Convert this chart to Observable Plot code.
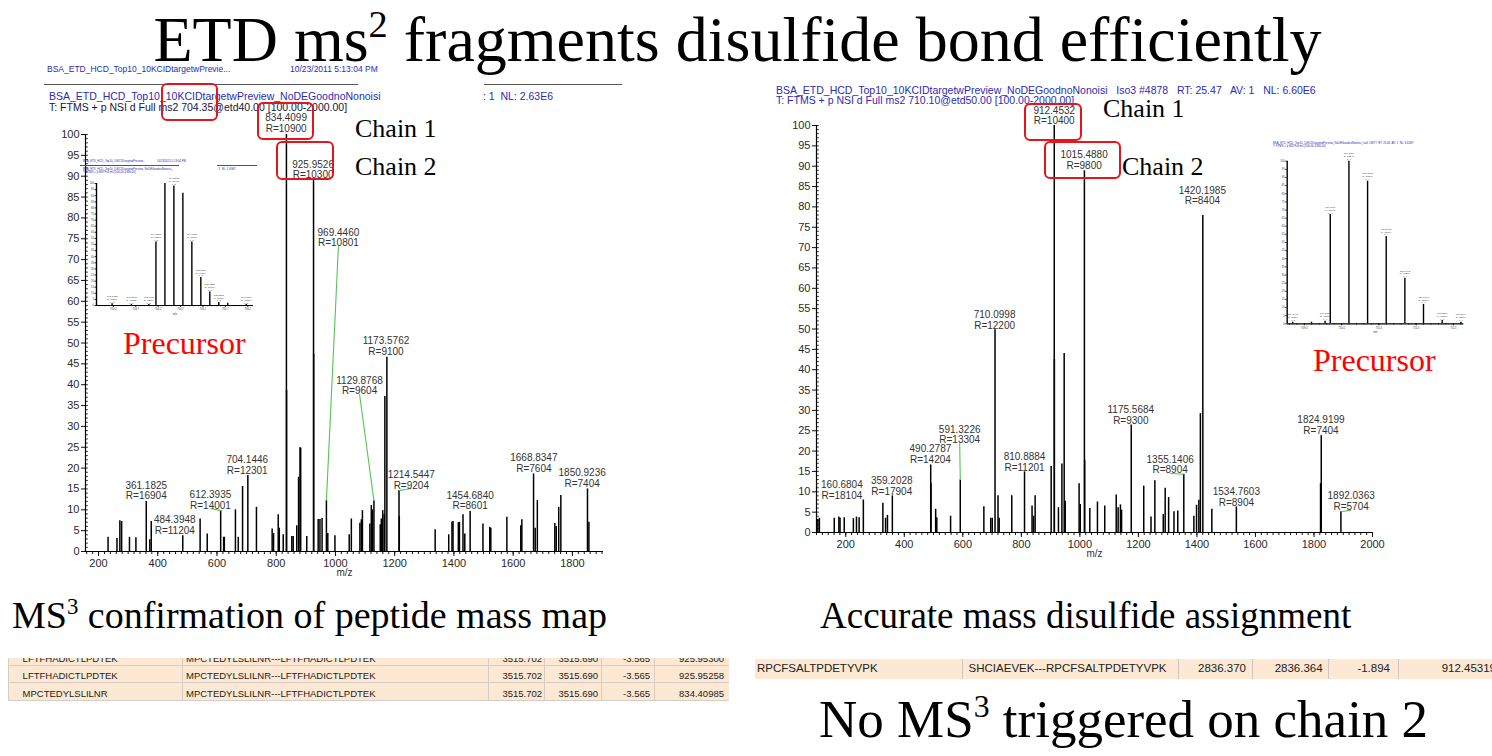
<!DOCTYPE html>
<html><head><meta charset="utf-8">
<script src="https://cdn.jsdelivr.net/npm/d3@7"></script>
<script src="https://cdn.jsdelivr.net/npm/@observablehq/plot@0.6"></script>
<style>
html,body{margin:0;padding:0;background:#fff;}
body{position:relative;width:1492px;height:756px;overflow:hidden;font-family:"Liberation Sans",Arial,sans-serif;}
.box{position:absolute;border:2px solid #e8141b;border-radius:6px;box-sizing:border-box;}
.cell{position:absolute;white-space:pre;}
.sup{font-size:0.6em;vertical-align:0.62em;line-height:0}
</style></head><body>
<script>
// ---------------- DATA ----------------
const titleText = "ETD ms<span class='sup'>2</span> fragments disulfide bond efficiently";

// Left spectrum: ms2 of 704.35 (etd40)
const leftMz = [232.2, 262.3, 272.0, 278.0, 304.5, 326.2, 361.1825, 373.1, 378.0, 484.3948, 543.0, 567.0, 612.3935, 622.4, 624.8, 662.2, 671.8, 686.3, 704.1446, 733.2, 786.2, 791.0, 806.7, 810.3, 823.6, 834.4099, 834.91, 852.5, 857.3, 869.3, 875.4, 880.2, 882.6, 903.1, 925.9526, 926.45, 941.6, 947.6, 954.8, 969.4460, 974.1, 998.2, 1046.4, 1053.6, 1082.5, 1087.3, 1091.0, 1116.2, 1121.0, 1124.7, 1129.8768, 1151.2, 1154.8, 1159.6, 1164.4, 1166.8, 1173.5762, 1214.5447, 1215.5, 1336.6, 1382.4, 1393.3, 1396.9, 1414.9, 1418.6, 1430.6, 1436.6, 1454.6840, 1498.0, 1520.9, 1524.5, 1578.7, 1625.7, 1629.3, 1668.8347, 1674.4, 1681.6, 1740.6, 1745.4, 1753.8, 1761.0, 1850.9236, 1855.7];
const leftInt = [3.4, 3.1, 7.4, 7.2, 3.4, 3.3, 12.0, 2.8, 7.2, 3.8, 7.8, 4.2, 9.8, 3.4, 3.4, 10.0, 3.4, 15.6, 18.2, 10.6, 5.4, 4.3, 8.8, 5.6, 4.0, 100, 38.6, 3.6, 3.6, 6.2, 17.8, 24.9, 24.8, 3.6, 89, 47.4, 7.7, 7.7, 7.9, 12.2, 4.3, 3.8, 4.0, 7.8, 6.8, 7.6, 9.8, 6.6, 11.0, 10.0, 12.2, 6.4, 7.8, 9.8, 8.8, 37.2, 46.6, 14.6, 8.4, 5.2, 4.0, 7.0, 7.2, 6.9, 7.0, 8.8, 4.2, 9.6, 6.6, 5.8, 5.6, 8.2, 6.2, 7.6, 18.6, 5.6, 12.2, 6.7, 6.0, 10.6, 13.4, 15.0, 7.0];
const leftLabelMz = [361.1825, 484.3948, 612.3935, 704.1446, 834.4099, 925.9526, 969.4460, 1129.8768, 1173.5762, 1214.5447, 1454.6840, 1668.8347, 1850.9236];
const leftLabelRes = [16904, 11204, 14001, 12301, 10900, 10300, 10801, 9604, 9100, 9204, 8601, 7604, 7404];
const leftLabelShift = [[0,0.5],[-27,0.5],[-34.5,0.5],[-2,0.5],[-1,0.6],[-1.5,0.5],[40.5,61],[-48.6,25.5],[-3,0.5],[41.5,0.5],[0,0.5],[1,0.5],[-18,0.5]];
const leftLeaders = [612.3935, 969.4460, 1129.8768, 1214.5447];
const leftXTicks = [200, 400, 600, 800, 1000, 1200, 1400, 1600, 1800];

// Right spectrum: ms2 of 710.10 (etd50)
const rightMz = [104.6, 109.8, 160.6804, 176.5, 180.4, 194.8, 226.0, 236.6, 245.7, 260.1, 326.8, 336.0, 342.5, 359.2028, 490.2787, 491.3, 507.2, 511.1, 558.2, 591.3226, 671.9, 695.4, 700.7, 710.0998, 720.3, 724.2, 767.3, 810.8884, 836.6, 841.8, 847.1, 901.9, 912.4532, 912.95, 926.8, 938.6, 946.4, 950.0, 997.4, 1001.3, 1015.4880, 1016.5, 1034.0, 1060.1, 1085.0, 1124.2, 1130.7, 1138.6, 1142.5, 1175.5684, 1218.3, 1243.1, 1256.2, 1285.0, 1291.5, 1303.3, 1321.6, 1334.6, 1355.1406, 1389.6, 1398.7, 1406.6, 1411.8, 1420.1985, 1451.0, 1534.7603, 1822.5, 1824.9199, 1892.0363];
const rightInt = [3.2, 3.5, 3.5, 3.8, 3.5, 3.6, 3.4, 3.8, 3.6, 8.0, 7.2, 3.5, 4.2, 9.0, 16.6, 12.0, 5.7, 3.6, 4.0, 12.9, 6.3, 3.5, 3.5, 49.8, 9.0, 3.5, 9.0, 14.9, 6.5, 4.0, 9.0, 16.2, 100, 42.5, 6.1, 16.8, 44.0, 7.7, 12.0, 6.9, 88.9, 17.8, 5.9, 7.5, 6.5, 9.2, 6.1, 6.8, 5.5, 26.4, 11.4, 3.8, 12.7, 4.4, 10.9, 8.6, 5.1, 5.3, 14.3, 4.0, 6.7, 7.9, 29.2, 77.9, 5.7, 6.3, 12.0, 23.8, 5.1];
const rightLabelMz = [160.6804, 359.2028, 490.2787, 591.3226, 710.0998, 810.8884, 912.4532, 1015.4880, 1175.5684, 1355.1406, 1420.1985, 1534.7603, 1824.9199, 1892.0363];
const rightLabelRes = [18104, 17904, 14204, 13304, 12200, 11201, 10400, 9800, 9300, 8904, 8404, 8904, 7404, 5704];
const rightLabelShift = [[26,4.7],[-2,0.3],[-1,0.5],[-2,9],[-1.5,0.3],[0,0.2],[0,0.3],[-1,0.4],[-1.5,0.3],[-46.6,0.2],[-1.6,2.7],[0,0.2],[-1,0.4],[35,0.4]];
const rightLeaders = [591.3226, 1355.1406, 1892.0363];
const rightXTicks = [200, 400, 600, 800, 1000, 1200, 1400, 1600, 1800, 2000];

// Insets: precursor isotope clusters
const leftInsetMz = [703.1722, 703.6018, 703.9936, 704.1505, 704.3509, 704.5512, 704.7518, 704.9521, 705.1524, 705.3528, 705.5531, 705.7529, 706.1650];
const leftInsetInt = [1.5, 0.8, 0.8, 52, 100, 98, 92, 52, 23, 11, 2.5, 1.9, 0.8];
const leftInsetRes = [16104, 16302, 16004, 16204, 16200, 16400, 16204, 16104, 16204, 16004, 15904, 16104, 15804];
const leftInsetZ = [5, 5, 5, 5, 5, 5, 5, 5, 5, 5, 5, 5, 5];
const leftInsetLabelled = [703.1722, 703.6018, 703.9936, 704.1505, 704.5512, 704.9521, 705.1524, 705.3528, 705.5531, 706.1650];
const leftInsetTicks = [703.2, 703.7, 704.2, 704.7, 705.2, 705.7, 706.2];

const rightInsetMz = [709.3443, 709.5961, 709.7783, 709.8479, 710.0984, 710.3488, 710.5989, 710.8492, 711.0992, 711.3500, 711.6014];
const rightInsetInt = [1.0, 1.0, 1.6, 67.2, 100, 87.7, 53.7, 28, 11.9, 2, 1];
const rightInsetRes = [17304, 17104, 17804, 18404, 18240, 18004, 18104, 18204, 18004, 18204, 18004];
const rightInsetZ = [3, 4, 4, 4, 4, 4, 4, 4, 4, 4, 4];
const rightInsetLabelled = [709.3443, 709.7783, 709.8479, 710.0984, 710.3488, 710.5989, 710.8492, 711.0992, 711.3500, 711.6014];
const rightInsetTicks = [709.5, 710.0, 710.5, 711.0, 711.5];

// Tables
const leftTableRows = [
  ["LFTFHADICTLPDTEK", "MPCTEDYLSLILNR---LFTFHADICTLPDTEK", "3515.702", "3515.690", "-3.565", "925.95300"],
  ["LFTFHADICTLPDTEK", "MPCTEDYLSLILNR---LFTFHADICTLPDTEK", "3515.702", "3515.690", "-3.565", "925.95258"],
  ["MPCTEDYLSLILNR", "MPCTEDYLSLILNR---LFTFHADICTLPDTEK", "3515.702", "3515.690", "-3.565", "834.40985"]
];
const rightTableRows = [
  ["RPCFSALTPDETYVPK", "SHCIAEVEK---RPCFSALTPDETYVPK", "2836.370", "2836.364", "-1.894", "912.45319"]
];

// ---------------- HELPERS ----------------
const SERIF = "'Liberation Serif','Times New Roman',serif";
const SANS = "'Liberation Sans',Arial,sans-serif";
const body = document.body;
function place(el, css) { Object.assign(el.style, {position: "absolute"}, css); body.appendChild(el); return el; }
function textAt(html, x, baseline, size, family, color, extra = {}) {
  const asc = family === SERIF ? 0.8375 : 0.8465;
  const d = document.createElement("div");
  d.innerHTML = html;
  return place(d, {left: x + "px", top: (baseline - asc * size) + "px", fontSize: size + "px",
    lineHeight: size + "px", fontFamily: family, color, whiteSpace: "pre", ...extra});
}
function box(x, y, w, h) {
  const d = document.createElement("div"); d.className = "box";
  return place(d, {left: x + "px", top: y + "px", width: w + "px", height: h + "px"});
}
function hline(x1, x2, y, color, t) {
  const d = document.createElement("div");
  return place(d, {left: x1 + "px", top: y + "px", width: (x2 - x1) + "px", height: t + "px", background: color});
}

function spectrum(o) {
  const peaks = o.mz.map((m, i) => ({mz: m, int: o.inten[i]}));
  const labels = o.labMz.map((m, i) => {
    const p = peaks.find(d => d.mz === m);
    return {mz: m, int: p.int, lx: m + o.labShift[i][0], ly: p.int + o.labShift[i][1],
      text: `${m.toFixed(4)}\nR=${o.labRes[i]}`, lead: o.leaders.includes(m)};
  });
  const [x0, x1] = o.xDomain;
  return Plot.plot({
    width: o.width, height: o.height,
    marginLeft: o.ml, marginRight: o.mr, marginTop: o.mt, marginBottom: o.mb,
    x: {domain: o.xDomain, label: null},
    y: {domain: [0, 100], label: null},
    style: {fontFamily: SANS, color: "#2a2a2a", background: "transparent", overflow: "visible"},
    marks: [
      Plot.ruleY(d3.range(0, 101, 1), {x1: x0, x2: x0 + o.minorLen, stroke: "#111", strokeWidth: 0.8}),
      Plot.axisY(d3.range(0, 101, 5), {tickSize: 4, tickPadding: 2, fontSize: 11, label: null, stroke: "#111"}),
      Plot.axisX(d3.range(o.minorStart, x1, 20), {tickSize: 3, tickFormat: () => "", label: null, stroke: "#111"}),
      Plot.axisX(o.xTicks, {tickSize: 5, tickPadding: 3, fontSize: 11, label: null, tickFormat: d => String(d), stroke: "#111"}),
      Plot.ruleY([0], {stroke: "#000", strokeWidth: 1.2}),
      Plot.ruleX([x0], {stroke: "#000", strokeWidth: 1.2}),
      Plot.text(["m/z"], {frameAnchor: "bottom", dy: o.mzDy, fontSize: 10, fill: "#333"}),
      Plot.ruleX(peaks, {x: "mz", y1: 0, y2: "int", stroke: "#000", strokeWidth: 1.5}),
      Plot.link(labels.filter(d => d.lead), {x1: "lx", y1: "ly", x2: "mz", y2: "int", stroke: "#56c456", strokeWidth: 1.1}),
      Plot.text(labels, {x: "lx", y: "ly", text: "text", lineAnchor: "bottom", fontSize: 10, fill: "#333", lineHeight: 1.07})
    ]
  });
}

function inset(o) {
  const peaks = o.mz.map((m, i) => ({mz: m, int: o.inten[i], res: o.res[i], z: o.z[i]}));
  const lab = peaks.filter(d => o.labelled.includes(d.mz));
  return Plot.plot({
    width: o.width, height: o.height,
    marginLeft: o.ml, marginRight: o.mr, marginTop: o.mt, marginBottom: o.mb,
    x: {domain: o.xDomain, label: null},
    y: {domain: [0, 100], label: null},
    style: {fontFamily: SANS, color: "#333", background: "transparent", overflow: "visible"},
    marks: [
      Plot.axisY(d3.range(0, 101, 5), {tickSize: 1.5, tickPadding: 1, fontSize: 2.6, label: null}),
      Plot.axisX(d3.range(Math.ceil(o.xDomain[0] * 10) / 10, o.xDomain[1], 0.1), {tickSize: 1.2, tickFormat: () => "", label: null}),
      Plot.axisX(o.ticks, {tickSize: 2, tickPadding: 1, fontSize: 2.6, label: null, tickFormat: d => d.toFixed(1)}),
      Plot.ruleY([0], {stroke: "#000", strokeWidth: 1.2}),
      Plot.ruleX([o.xDomain[0]], {stroke: "#000", strokeWidth: 1.4}),
      Plot.text(["m/z"], {frameAnchor: "bottom", dy: o.mzDy, fontSize: 2.6}),
      Plot.ruleX(peaks, {x: "mz", y1: 0, y2: "int", stroke: "#000", strokeWidth: 1.4}),
      Plot.text(lab, {x: "mz", y: "int", text: d => `${d.mz.toFixed(4)}\nR=${d.res}\nz=${d.z}`,
        lineAnchor: "bottom", dy: -1, fontSize: 2.5, lineHeight: 1.15, fill: "#333"})
    ]
  });
}

function table(o) {
  const c = document.createElement("div");
  place(c, {left: o.left + "px", top: o.top + "px", width: o.width + "px", height: o.height + "px",
    background: "#fde8d3", overflow: "hidden", fontFamily: "'Liberation Sans',Tahoma,sans-serif",
    fontSize: o.fontSize + "px", color: "#222"});
  o.seps.forEach(x => {
    const s = document.createElement("div");
    Object.assign(s.style, {position: "absolute", left: x + "px", top: "0px", width: "1px", height: "100%", background: o.sepColor});
    c.appendChild(s);
  });
  o.hlines.forEach(y => {
    const s = document.createElement("div");
    Object.assign(s.style, {position: "absolute", left: "0px", top: y + "px", width: "100%", height: "1px", background: o.sepColor});
    c.appendChild(s);
  });
  o.rows.forEach((row, r) => {
    const base = o.firstBaseline + r * o.rowH;
    row.forEach((t, k) => {
      const col = o.cols[k];
      const s = document.createElement("div"); s.className = "cell"; s.textContent = t;
      const top = base - 0.8465 * o.fontSize;
      Object.assign(s.style, {top: top + "px", lineHeight: o.fontSize + "px"});
      if (col.align === "left") s.style.left = col.x + "px";
      else s.style.right = (o.width - col.x) + "px";
      c.appendChild(s);
    });
  });
  return c;
}

// ---------------- LAYOUT ----------------
textAt(titleText, 737.5, 62, 64, SERIF, "#000", {transform: "translateX(-50%)"});

// Left chart header
const BLUE = "#2b2bb0";
textAt("BSA_ETD_HCD_Top10_10KCIDtargetwPrevie...", 47, 72, 8.5, SANS, BLUE);
textAt("10/23/2011 5:13:04 PM", 290, 72, 8.5, SANS, BLUE);
hline(44, 358, 83.5, "#555", 1.6);
hline(484, 622, 83.5, "#555", 1.6);
textAt("BSA_ETD_HCD_Top10_10KCIDtargetwPreview_NoDEGoodnoNonoisi", 49, 99.8, 10.5, SANS, BLUE);
textAt(": 1  NL: 2.63E6", 483, 99.8, 10.5, SANS, BLUE);
textAt("T: FTMS + p NSI d Full ms2 704.35@etd40.00 [100.00-2000.00]", 49, 110.8, 10.5, SANS, "#141440");

// Right chart header
textAt("BSA_ETD_HCD_Top10_10KCIDtargetwPreview_NoDEGoodnoNonoisi   Iso3 #4878   RT: 25.47   AV: 1   NL: 6.60E6", 776, 93.8, 10.5, SANS, BLUE);
textAt("T: FTMS + p NSI d Full ms2 710.10@etd50.00 [100.00-2000.00]", 776, 103.8, 10.5, SANS, BLUE);

// Left spectrum
place(spectrum({
  mz: leftMz, inten: leftInt, labMz: leftLabelMz, labRes: leftLabelRes, labShift: leftLabelShift,
  leaders: leftLeaders, xDomain: [156, 1905], xTicks: leftXTicks, minorStart: 160, minorLen: 10,
  width: 740, height: 500, ml: 85, mr: 137, mt: 34, mb: 49, mzDy: 24
}), {left: "0px", top: "100px"});

// Right spectrum
place(spectrum({
  mz: rightMz, inten: rightInt, labMz: rightLabelMz, labRes: rightLabelRes, labShift: rightLabelShift,
  leaders: rightLeaders, xDomain: [100, 2000], xTicks: rightXTicks, minorStart: 100, minorLen: 10,
  width: 745, height: 480, ml: 71, mr: 118, mt: 30, mb: 43, mzDy: 24
}), {left: "745px", top: "95px"});

// Left inset (precursor)
textAt("BSA_ETD_HCD_Top10_10KCIDtargetwPreview...", 83, 162, 2.8, SANS, BLUE);
textAt("10/23/2011 5:13:04 PM", 157, 162, 2.8, SANS, BLUE);
hline(80, 179, 164.5, "#555", 1.2);
hline(217, 257, 164.5, "#555", 1.2);
textAt("BSA_ETD_HCD_Top10_10KCIDtargetwPreview_NoDEGoodnoNonoisi_", 83, 170, 2.8, SANS, BLUE);
textAt(": 1  NL: 1.63E7", 217, 170, 2.8, SANS, BLUE);
textAt("T: FTMS + p NSI Full ms [500.00-2000.00]", 83, 173.5, 2.8, SANS, BLUE);
place(inset({
  mz: leftInsetMz, inten: leftInsetInt, res: leftInsetRes, z: leftInsetZ, labelled: leftInsetLabelled,
  xDomain: [702.824, 706.328], ticks: leftInsetTicks,
  width: 202, height: 170, ml: 16, mr: 29, mt: 33, mb: 15, mzDy: 9
}), {left: "80px", top: "150px"});

// Right inset (precursor)
textAt("BSA_ETD_HCD_Top10_10KCIDtargetwPreview_NoDEGoodnoNonoisi_Iso3 #4877  RT: 25.46  AV: 1  NL: 6.62E7", 1273, 144, 2.8, SANS, BLUE);
textAt("T: FTMS + p NSI Full ms [300.00-2000.00]", 1273, 147.5, 2.8, SANS, BLUE);
place(inset({
  mz: rightInsetMz, inten: rightInsetInt, res: rightInsetRes, z: rightInsetZ, labelled: rightInsetLabelled,
  xDomain: [709.27, 711.64], ticks: rightInsetTicks,
  width: 200, height: 220, ml: 16.7, mr: 6.7, mt: 30.7, mb: 26.7, mzDy: 9
}), {left: "1270px", top: "130px"});

// Red boxes and annotations
box(161, 83, 57, 38);
box(257, 102, 57, 38);
box(276, 141, 58, 39);
box(1024, 103, 58, 38);
box(1044, 141, 77, 38);
textAt("Chain 1", 355, 138, 26, SERIF, "#000");
textAt("Chain 2", 355, 176, 26, SERIF, "#000");
textAt("Chain 1", 1103, 118, 26, SERIF, "#000");
textAt("Chain 2", 1122, 176, 26, SERIF, "#000");
textAt("Precursor", 123, 354, 32, SERIF, "#ff0000");
textAt("Precursor", 1313, 371, 32, SERIF, "#ff0000");

// Subtitles
textAt("MS<span class='sup'>3</span> confirmation of peptide mass map", 12, 628, 38, SERIF, "#000");
textAt("Accurate mass disulfide assignment", 820, 628, 37, SERIF, "#000");
textAt("No MS<span class='sup'>3</span> triggered on chain 2", 819, 737, 53, SERIF, "#000");

// Tables
table({
  rows: leftTableRows, left: 8, top: 658, width: 721, height: 43, fontSize: 9.5,
  firstBaseline: 4.2, rowH: 17.3, sepColor: "#d6cdc4",
  seps: [0, 173.7, 479.5, 535.6, 592.8, 645.6], hlines: [7, 24.3, 42],
  cols: [{x: 14.6, align: "left"}, {x: 178, align: "left"}, {x: 534, align: "right"},
         {x: 590, align: "right"}, {x: 642, align: "right"}, {x: 716, align: "right"}]
});
table({
  rows: rightTableRows, left: 755, top: 659, width: 737, height: 20, fontSize: 11.5,
  firstBaseline: 14.1, rowH: 20, sepColor: "#cfc6bd",
  seps: [207, 423.3, 496.6, 573.3, 643.4], hlines: [],
  cols: [{x: 2, align: "left"}, {x: 213.6, align: "left"}, {x: 491, align: "right"},
         {x: 567.6, align: "right"}, {x: 635, align: "right"}, {x: 741, align: "right"}]
});
</script>
</body></html>
